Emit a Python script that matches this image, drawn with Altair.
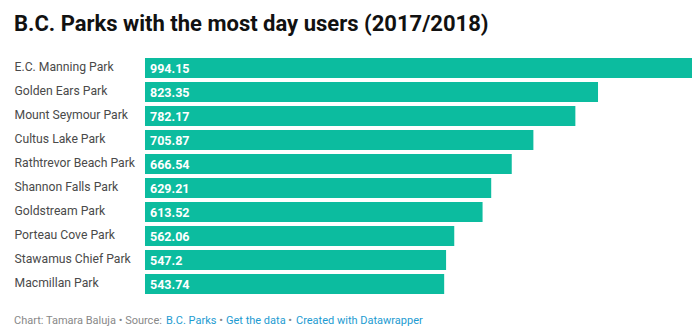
import altair as alt
import pandas as pd

parks = ["E.C. Manning Park", "Golden Ears Park", "Mount Seymour Park", "Cultus Lake Park",
         "Rathtrevor Beach Park", "Shannon Falls Park", "Goldstream Park", "Porteau Cove Park",
         "Stawamus Chief Park", "Macmillan Park"]
users = [994.15, 823.35, 782.17, 705.87, 666.54, 629.21, 613.52, 562.06, 547.2, 543.74]
labels = ["994.15", "823.35", "782.17", "705.87", "666.54", "629.21", "613.52", "562.06", "547.2", "543.74"]

df = pd.DataFrame({"park": parks, "users": users, "label": labels})

FONT = "Roboto"
W, H = 547, 240
LEFT, TOP = 145, 56

y_enc = alt.Y("park:N", sort=parks, title=None,
              scale=alt.Scale(paddingInner=4/24, paddingOuter=2/24),
              axis=alt.Axis(ticks=False, domain=False, labelAlign="left", labelPadding=131,
                            labelFont=FONT, labelFontSize=12.2, labelColor="#4a4a4a",
                            labelBaseline="middle", labelOffset=-1))
x_enc = alt.X("users:Q", scale=alt.Scale(domain=[0, 994.15], nice=False), axis=None)

bars = alt.Chart(df).mark_bar(color="#0cbc9f").encode(x=x_enc, y=y_enc)
vals = alt.Chart(df).mark_text(align="left", baseline="middle", dx=5, dy=1, color="white",
                               font=FONT, fontWeight="bold", fontSize=12.5).encode(
    x=alt.value(0), y=alt.Y("park:N", sort=parks), text="label:N")

foot_parts = [
    ("Chart: Tamara Baluja • Source:", 14, "#888888", "left"),
    ("B.C. Parks", 166, "#1d9bd1", "left"),
    ("•", 221, "#888888", "center"),
    ("Get the data", 226, "#1d9bd1", "left"),
    ("•", 290, "#888888", "center"),
    ("Created with Datawrapper", 296, "#1d9bd1", "left"),
]
footers = []
for txt, xpos, col, al in foot_parts:
    footers.append(alt.Chart(pd.DataFrame({"t": [txt]})).mark_text(
        align=al, baseline="middle", font=FONT, fontSize=11, color=col).encode(
        x=alt.value(xpos - LEFT), y=alt.value(321 - TOP), text="t:N"))

title = alt.Chart(pd.DataFrame({"t": ["B.C. Parks with the most day users (2017/2018)"]})).mark_text(
    align="left", baseline="alphabetic", font=FONT, fontSize=22, fontWeight="bold", color="#111111").encode(
    x=alt.value(14 - LEFT), y=alt.value(31 - TOP), text="t:N")

chart = alt.layer(bars, vals, title, *footers).properties(
    width=W, height=H,
    autosize=alt.AutoSizeParams(type="none"),
    padding={"left": LEFT, "top": TOP, "right": 696 - LEFT - W, "bottom": 334 - TOP - H},
    background="white",
).configure_view(stroke=None)

chart.save("out.html", embed_options={"renderer": "svg", "actions": False})
